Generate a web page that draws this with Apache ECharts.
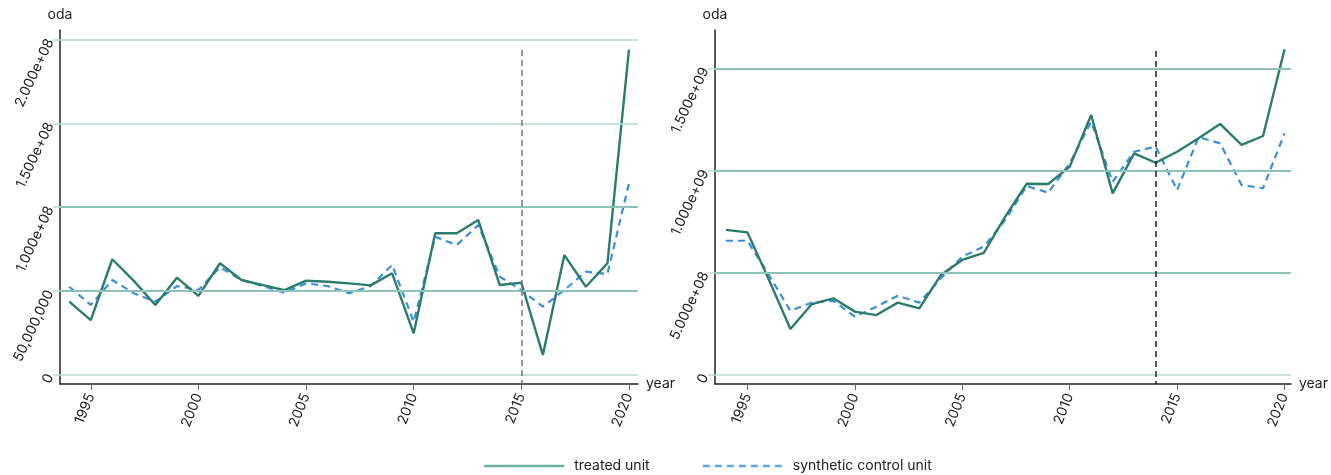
<!DOCTYPE html>
<html>
<head>
<meta charset="utf-8">
<script src="https://cdn.jsdelivr.net/npm/echarts@6/dist/echarts.min.js"></script>
<style>
html,body{margin:0;padding:0;background:#fff;}
#chart{width:1331px;height:475px;}
</style>
</head>
<body>
<div id="chart"></div>
<script>
const years = [1994,1995,1996,1997,1998,1999,2000,2001,2002,2003,2004,2005,2006,2007,2008,2009,2010,2011,2012,2013,2014,2015,2016,2017,2018,2019,2020];

const leftTreated = [4.36e7,3.26e7,6.89e7,5.6e7,4.16e7,5.79e7,4.70e7,6.65e7,5.65e7,5.35e7,5.05e7,5.61e7,5.55e7,5.45e7,5.33e7,6.05e7,2.47e7,8.44e7,8.44e7,9.23e7,5.35e7,5.49e7,1.18e7,7.14e7,5.25e7,6.65e7,1.94e8];
const leftSynthetic = [5.25e7,4.16e7,5.65e7,4.86e7,4.36e7,5.29e7,5.05e7,6.41e7,5.65e7,5.29e7,4.89e7,5.45e7,5.29e7,4.86e7,5.29e7,6.55e7,3.16e7,8.23e7,7.74e7,8.93e7,5.85e7,5.05e7,4.06e7,5.05e7,6.15e7,6.01e7,1.142e8];

const rightTreated = [7.09e8,6.97e8,4.65e8,2.24e8,3.46e8,3.74e8,3.09e8,2.92e8,3.53e8,3.25e8,4.88e8,5.62e8,5.97e8,7.74e8,9.35e8,9.34e8,1.019e9,1.272e9,8.88e8,1.084e9,1.038e9,1.092e9,1.158e9,1.228e9,1.125e9,1.169e9,1.594e9];
const rightSynthetic = [6.56e8,6.56e8,4.88e8,3.13e8,3.53e8,3.62e8,2.84e8,3.33e8,3.87e8,3.53e8,4.72e8,5.78e8,6.27e8,7.58e8,9.24e8,8.91e8,1.035e9,1.239e9,9.45e8,1.092e9,1.117e9,9.04e8,1.163e9,1.133e9,9.29e8,9.13e8,1.182e9];

const xTicks = [1995,2000,2005,2010,2015,2020];
const leftYTicks = [0,5e7,1e8,1.5e8,2e8];
const leftYTickLabels = ['0','50,000,000','1.000e+08','1.500e+08','2.000e+08'];
const rightYTicks = [0,5e8,1e9,1.5e9];
const rightYTickLabels = ['0','5.000e+08','1.000e+09','1.500e+09'];

const leftTreatmentYear = 2015;
const rightTreatmentYear = 2014;

const seriesNames = ['treated unit','synthetic control unit'];

const TEAL = '#2c7c6c';
const BLUE = '#3a90d8';
const GRID_LIGHT = '#b9dad4';
const GRID_DARK = '#8fc2b8';
const FONT = 'Inter, "Noto Sans", sans-serif';
const TXT = '#222';

function pairs(ys){ return years.map((y,i)=>[y, ys[i]]); }

function xAxisCfg(idx, min, max){
  return {
    type:'value', gridIndex: idx, min:min, max:max,
    name:'year', nameLocation:'end', nameGap:8,
    nameTextStyle:{fontFamily:FONT,fontSize:14,color:TXT,verticalAlign:'middle',padding:[0,0,6,0]},
    axisLine:{show:true,onZero:false,lineStyle:{color:'#222',width:1.5}},
    axisTick:{show:true,length:6,customValues:xTicks,lineStyle:{color:'#666',width:1}},
    axisLabel:{customValues:xTicks,rotate:68,margin:10,fontFamily:FONT,fontSize:14,color:TXT,formatter:v=>String(v)},
    splitLine:{show:false}
  };
}
function yAxisCfg(idx, min, max, ticks, labels){
  return {
    type:'value', gridIndex: idx, min:min, max:max,
    name:'oda', nameLocation:'end', nameGap:8,
    nameTextStyle:{fontFamily:FONT,fontSize:14,color:TXT,align:'center'},
    axisLine:{show:true,onZero:false,lineStyle:{color:'#222',width:1.5}},
    axisTick:{show:true,length:7,customValues:ticks,lineStyle:{color:GRID_LIGHT,width:1.5}},
    axisLabel:{customValues:ticks,rotate:65,margin:10,fontFamily:FONT,fontSize:14,color:TXT,
      formatter:v=>{const i=ticks.indexOf(v);return i>=0?labels[i]:'';}},
    splitLine:{show:false}
  };
}
function gridLines(idx, ticks, darkSet){
  return {
    type:'line', xAxisIndex:idx, yAxisIndex:idx, data:[], z:1, silent:true,
    markLine:{symbol:'none',silent:true,label:{show:false},animation:false,
      data: ticks.map(t=>({yAxis:t, lineStyle:{color: darkSet.includes(t)?GRID_DARK:GRID_LIGHT, width: darkSet.includes(t)?2:1.5, type:'solid'}}))}
  };
}
function vline(idx, year, topVal, bottomVal, color){
  return {
    type:'line', xAxisIndex:idx, yAxisIndex:idx, data:[], z:2, silent:true,
    markLine:{symbol:'none',silent:true,label:{show:false},animation:false,
      lineStyle:{color:color,width:1.5,type:[6,4]},
      data:[[{coord:[year, topVal]},{coord:[year, bottomVal]}]]}
  };
}

const chart = echarts.init(document.getElementById('chart'), null, {renderer:'canvas'});
chart.setOption({
  animation:false,
  backgroundColor:'#fff',
  grid:[
    {left:60, top:30, width:578, height:354},
    {left:715, top:30, width:577, height:354}
  ],
  xAxis:[ xAxisCfg(0, 1993.57, 2020.42), xAxisCfg(1, 1993.49, 2020.3) ],
  yAxis:[ yAxisCfg(0, -5.55e6, 2.057e8, leftYTicks, leftYTickLabels),
          yAxisCfg(1, -4.55e7, 1.688e9, rightYTicks, rightYTickLabels) ],
  legend:{
    orient:'horizontal', left:483, top:459, padding:0, itemWidth:80, itemHeight:14, itemGap:52,
    textStyle:{fontFamily:FONT,fontSize:14,color:TXT,padding:[0,0,0,5]},
    data:[
      {name:seriesNames[0], itemStyle:{opacity:0}, lineStyle:{color:'#6fb0a5',width:2.4,opacity:1}},
      {name:seriesNames[1], itemStyle:{opacity:0}, lineStyle:{color:'#5aa8e6',width:2.4,type:[7,5],opacity:1}}
    ]
  },
  series:[
    gridLines(0, leftYTicks, [5e7,1e8]),
    gridLines(1, rightYTicks, [5e8,1e9,1.5e9]),
    vline(0, leftTreatmentYear, 1.937e8, -5.55e6, '#777'),
    vline(1, rightTreatmentYear, 1.585e9, -4.55e7, '#222'),
    {name:seriesNames[0], type:'line', xAxisIndex:0, yAxisIndex:0, data:pairs(leftTreated), symbol:'none', z:4,
      lineStyle:{color:TEAL,width:2.4}, itemStyle:{color:TEAL}},
    {name:seriesNames[1], type:'line', xAxisIndex:0, yAxisIndex:0, data:pairs(leftSynthetic), symbol:'none', z:3,
      lineStyle:{color:BLUE,width:2.2,type:[7,5]}, itemStyle:{color:BLUE}},
    {name:seriesNames[0], type:'line', xAxisIndex:1, yAxisIndex:1, data:pairs(rightTreated), symbol:'none', z:4,
      lineStyle:{color:TEAL,width:2.4}, itemStyle:{color:TEAL}},
    {name:seriesNames[1], type:'line', xAxisIndex:1, yAxisIndex:1, data:pairs(rightSynthetic), symbol:'none', z:3,
      lineStyle:{color:BLUE,width:2.2,type:[7,5]}, itemStyle:{color:BLUE}}
  ]
});
</script>
</body>
</html>
